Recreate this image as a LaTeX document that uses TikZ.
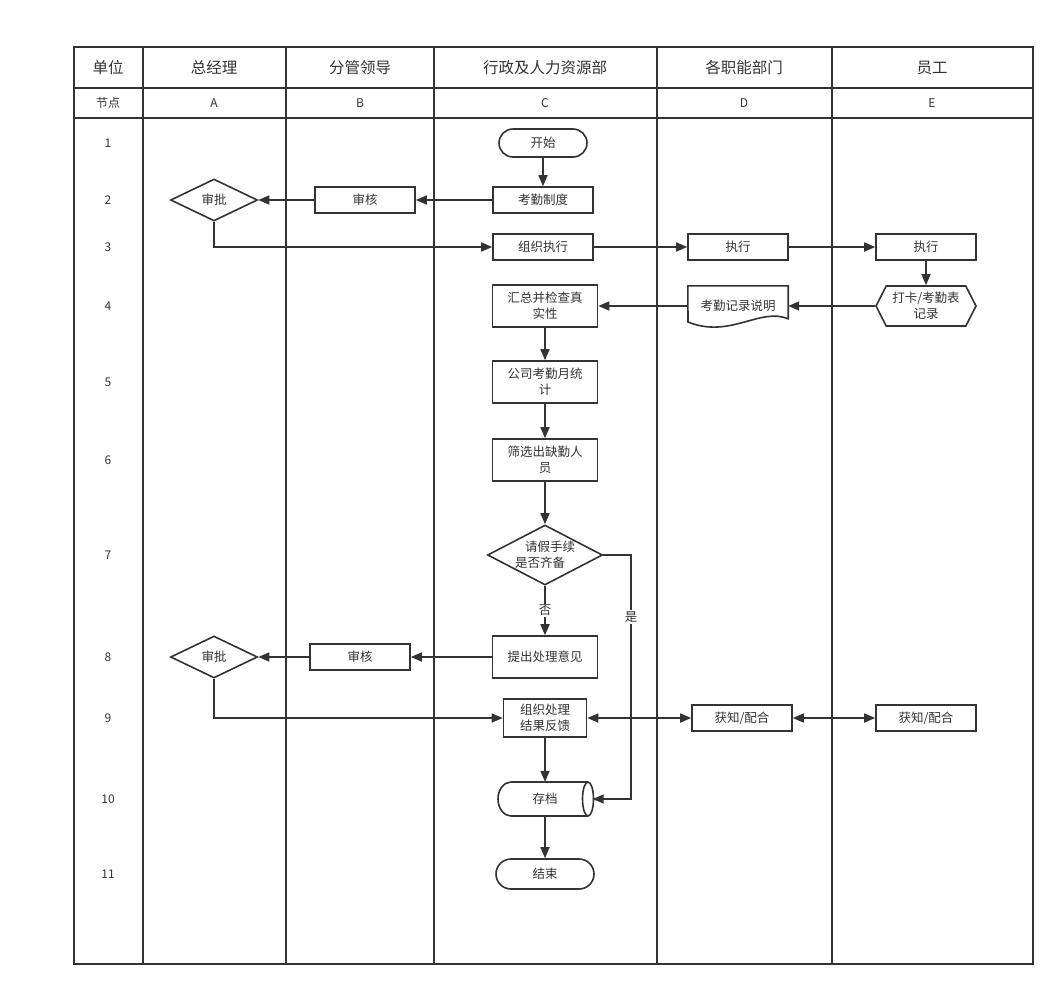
\documentclass[tikz,border=0pt]{standalone}
\usepackage{fontspec}
\setmainfont{Noto Sans CJK SC}
\usepackage{tikz}
\usetikzlibrary{positioning,arrows.meta,shapes.geometric,shapes.symbols,shapes.misc}
\definecolor{ln}{HTML}{333333}

\begin{document}
\begin{tikzpicture}[x=1pt,y=-1pt,
    every node/.style={text=ln,font=\fontsize{12.5}{16}\selectfont},
    hd/.style={font=\fontsize{15.5}{18}\selectfont},
    sm/.style={font=\fontsize{12}{14}\selectfont},
    box/.style={draw=ln,line width=1.6pt,minimum width=100,minimum height=26,inner sep=1pt,align=center},
    bigbox/.style={box,minimum width=105,minimum height=42,text width=98},
    term/.style={draw=ln,line width=1.6pt,rounded rectangle,minimum width=90,minimum height=28,inner sep=1pt},
    dec/.style={draw=ln,line width=1.6pt,diamond,minimum width=87,minimum height=42,inner sep=0pt,aspect=2},
    arr/.style={draw=ln,line width=1.6pt,-{Triangle[length=11pt,width=9pt]}},
    barr/.style={draw=ln,line width=1.6pt,{Triangle[length=11pt,width=9pt]}-{Triangle[length=11pt,width=9pt]}},
    lbl/.style={fill=white,inner sep=1.5pt}]
  \useasboundingbox (0,0) rectangle (1064,996);
  % table
  \draw[ln,line width=1.6pt] (74,47) rectangle (1033,964);
  \draw[ln,line width=1.6pt] (74,88) -- (1033,88);
  \draw[ln,line width=1.6pt] (74,118) -- (1033,118);
  \foreach \x in {143,286,434,657,832}
    \draw[ln,line width=1.6pt] (\x,47) -- (\x,964);
  \foreach \x/\t in {108/单位,214/总经理,360/分管领导,545/行政及人力资源部,744/各职能部门,932/员工}
    \node[hd] (h\x) at (\x,68) {\t};
  \foreach \x/\t in {108/节点,214/A,360/B,545/C,744/D,932/E}
    \node[sm] (c\x) at (\x,103) {\t};
  \foreach \n/\y in {1/143,2/200,3/247,4/306,5/382,6/460,7/555,8/657,9/718,10/799,11/874}
    \node[sm] (r\n) at (108,\y) {\n};

  % nodes
  \node[term] (start) at (543,143) {开始};
  \node[box] (kqzd) at (543,200) {考勤制度};
  \node[box] (sh1) at (365,200) {审核};
  \node[dec] (sp1) at (214,200) {审批};
  \node[box] (zzzx) at (543,247) {组织执行};
  \node[box] (zx1) at (738,247) {执行};
  \node[box] (zx2) at (926,247) {执行};
  \node[draw=ln,line width=1.6pt,signal,signal to=west and east,signal pointer angle=126,
        minimum width=100,minimum height=40,inner sep=0pt,align=center] (dk) at (926,306) {打卡/考勤表\\记录};
  \node[minimum width=100,minimum height=40,inner sep=0pt] (kqjl) at (738,306) {\raisebox{2pt}{考勤记录说明}};
  \draw[ln,line width=1.6pt] (kqjl.north west) -- (kqjl.north east) -- ++(0,33)
    .. controls (760,307) and (730,339) .. (688,322) -- cycle;
  \node[bigbox] (hz) at (545,306) {汇总并检查真\\实性};
  \node[bigbox] (gs) at (545,382) {公司考勤月统\\计};
  \node[bigbox] (sx) at (545,460) {筛选出缺勤人\\员};
  \node[dec,minimum width=113,minimum height=60,align=left] (qj) at (545,555) {\hspace{10pt}请假手续\\是否齐备};
  \node[bigbox] (tc) at (545,657) {提出处理意见};
  \node[box] (sh2) at (360,657) {审核};
  \node[dec] (sp2) at (214,657) {审批};
  \node[box,minimum width=83,minimum height=38] (zzcl) at (545,718) {组织处理\\结果反馈};
  \node[box] (hz1) at (742,718) {获知/配合};
  \node[box] (hz2) at (926,718) {获知/配合};
  \node[minimum width=95,minimum height=34,inner sep=0pt] (cd) at (545,799) {存档\hspace{18pt}};
  \draw[ln,line width=1.6pt] (588,782) -- (511,782) arc[start angle=270,end angle=90,x radius=13,y radius=17] -- (588,816);
  \draw[ln,line width=1.6pt] (588,799) ellipse[x radius=5.5,y radius=17];
  \node[term,minimum width=100,minimum height=30] (end) at (545,874) {结束};
  \coordinate (yes) at (631,799);

  % connectors
  \draw[arr] (start) -- (kqzd);
  \draw[arr] (kqzd) -- (sh1);
  \draw[arr] (sh1) -- (sp1);
  \draw[arr] (sp1.south) |- (zzzx);
  \draw[arr] (zzzx) -- (zx1);
  \draw[arr] (zx1) -- (zx2);
  \draw[arr] (zx2) -- (dk);
  \draw[arr] (dk) -- (kqjl.east);
  \draw[arr] (kqjl.west) -- (hz);
  \draw[arr] (hz) -- (gs);
  \draw[arr] (gs) -- (sx);
  \draw[arr] (sx) -- (qj);
  \draw[arr] (qj) -- node[lbl] {否} (tc);
  \draw[arr] (qj.east) -| node[lbl,pos=0.627] {是} (yes) -- (cd.east);
  \draw[arr] (tc) -- (sh2);
  \draw[arr] (sh2) -- (sp2);
  \draw[arr] (sp2.south) |- (zzcl);
  \draw[barr] (zzcl) -- (hz1);
  \draw[barr] (hz1) -- (hz2);
  \draw[arr] (zzcl) -- (cd);
  \draw[arr] (cd) -- (end);
\end{tikzpicture}
\end{document}
